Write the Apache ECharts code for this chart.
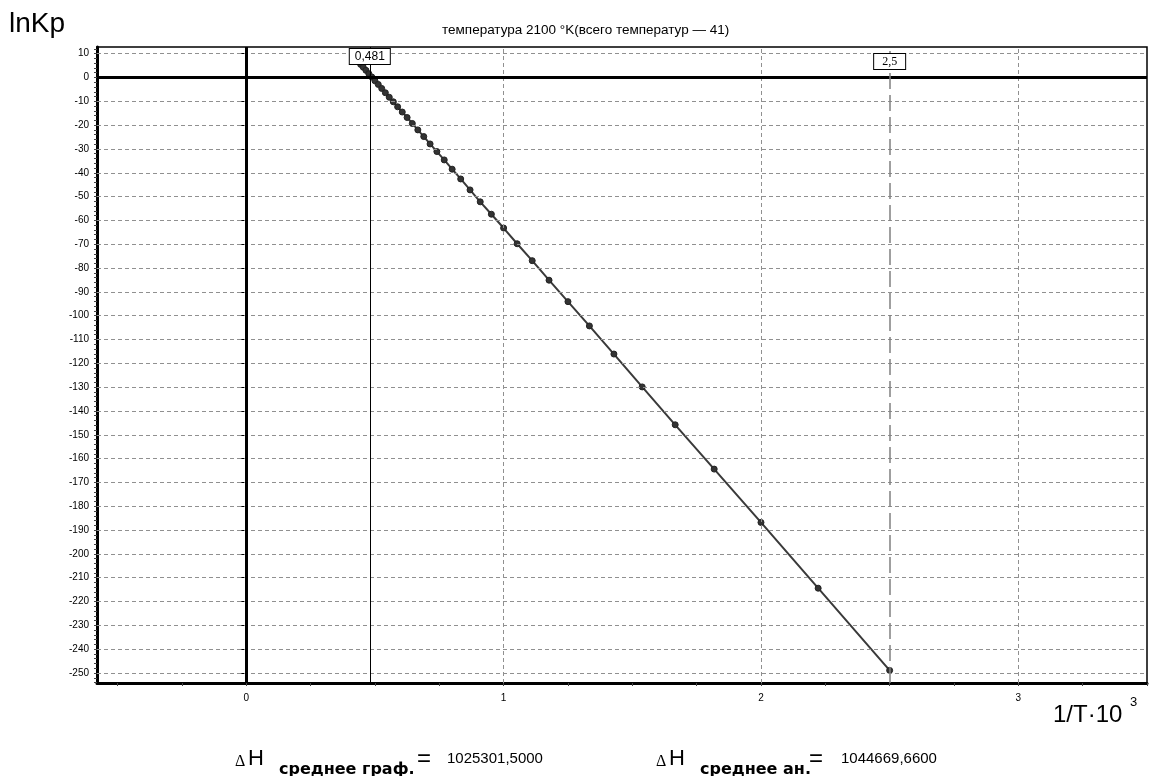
<!DOCTYPE html>
<html><head><meta charset="utf-8">
<script src="https://cdn.jsdelivr.net/npm/echarts@6/dist/echarts.min.js"></script>
<style>html,body{margin:0;padding:0;background:#fff}#c{width:1159px;height:776px}</style>
</head><body><div id="c"></div>
<script>
// 41 temperatures, 400..2400 K; x = 1/T·10^3, y = lnKp
const invT = [0.4167,0.4255,0.4348,0.4444,0.4545,0.4651,0.4762,0.4878,0.5,0.5128,0.5263,0.5405,0.5556,0.5714,0.5882,0.6061,0.625,0.6452,0.6667,0.6897,0.7143,0.7407,0.7692,0.8,0.8333,0.8696,0.9091,0.9524,1.0,1.0526,1.1111,1.1765,1.25,1.3333,1.4286,1.5385,1.6667,1.8182,2.0,2.2222,2.5];
const lnKp = [9.0,7.9,6.7,5.5,4.3,3.0,1.6,0.2,-1.4,-2.9,-4.6,-6.4,-8.3,-10.2,-12.3,-14.5,-16.8,-19.3,-22.0,-24.8,-27.9,-31.1,-34.6,-38.5,-42.6,-47.2,-52.2,-57.4,-63.2,-69.8,-76.9,-85.1,-94.1,-104.3,-116.1,-129.9,-145.8,-164.4,-186.8,-214.4,-248.9];
const xTickLabels = [0,1,2,3];
const xTicks = [-0.5,-0.25,0,0.25,0.5,0.75,1,1.25,1.5,1.75,2,2.25,2.5,2.75,3,3.25,3.5];
const xGridValues = [1,2,3];
const yTickLabels = [-250,-240,-230,-220,-210,-200,-190,-180,-170,-160,-150,-140,-130,-120,-110,-100,-90,-80,-70,-60,-50,-40,-30,-20,-10,0,10];
const yMinorTicks = [];
for (let v = -254; v <= 12; v += 2) yMinorTicks.push(v);
const yGridValues = yTickLabels.filter(v => v !== 0);
const markerValues = [0.481, 2.5];
const markerTexts = ['0,481', '2,5'];
const titleText = 'температура 2100 °K(всего температур — 41)';
const yName = 'lnKp';
const xName = '1/T·10';
const xNameSup = '3';
const dhGraphLabel = 'среднее граф.';
const dhGraphValue = '1025301,5000';
const dhAnLabel = 'среднее ан.';
const dhAnValue = '1044669,6600';

const FONT = "'Liberation Sans', Arial, sans-serif";
const points = invT.map((x, i) => [x, lnKp[i]]);
const chart = echarts.init(document.getElementById('c'));

const gridLineStyle = {color: '#909090', type: [4, 3], width: 1};

chart.setOption({
  animation: false,
  backgroundColor: '#fff',
  grid: {left: 97, right: 12, top: 47, bottom: 93, show: true, borderColor: '#000', borderWidth: 1.5, backgroundColor: '#fff'},
  xAxis: [{
    type: 'value', min: -0.58, max: 3.5,
    splitLine: {show: false},
    axisLine: {show: true, onZero: false, lineStyle: {color: '#000', width: 3}},
    axisTick: {show: true, customValues: xTicks, length: 3, lineStyle: {color: '#444'}},
    axisLabel: {customValues: xTickLabels, fontSize: 10, color: '#000', margin: 10, fontFamily: FONT}
  }],
  yAxis: [{
    type: 'value', min: -254.2, max: 12.8,
    splitLine: {show: false},
    axisLine: {show: true, onZero: false, lineStyle: {color: '#000', width: 3}},
    axisTick: {show: true, customValues: yMinorTicks, length: 3, lineStyle: {color: '#444'}},
    axisLabel: {customValues: yTickLabels, fontSize: 10, color: '#000', margin: 8, fontFamily: FONT}
  }, {
    type: 'value', min: -254.2, max: 12.8, position: 'left',
    splitLine: {show: false},
    axisLine: {show: false},
    axisTick: {show: true, customValues: yTickLabels, length: 5, lineStyle: {color: '#000'}},
    axisLabel: {show: false}
  }],
  series: [
    {
      name: 'grid', type: 'line', data: points, symbol: 'none', silent: true, z: 1,
      lineStyle: {opacity: 0},
      markLine: {
        silent: true, symbol: ['none', 'none'], label: {show: false},
        lineStyle: gridLineStyle,
        data: yGridValues.map(v => ({yAxis: v})).concat(xGridValues.map(v => ({xAxis: v})))
      }
    },
    {
      name: 'axes0', type: 'line', data: points, symbol: 'none', silent: true, z: 2,
      lineStyle: {opacity: 0},
      markLine: {
        silent: true, symbol: ['none', 'none'], label: {show: false},
        lineStyle: {color: '#000', type: 'solid', width: 3},
        data: [{yAxis: 0}, {xAxis: 0}]
      }
    },
    {
      name: 'lnKp', type: 'line', data: points, z: 3,
      symbol: 'circle', symbolSize: 6,
      itemStyle: {color: '#333', borderColor: '#222', borderWidth: 1},
      lineStyle: {color: '#3a3a3a', width: 2}
    },
    {
      name: 'm1', type: 'line', data: points, symbol: 'none', silent: true, z: 4,
      lineStyle: {opacity: 0},
      markLine: {
        silent: true, symbol: ['none', 'none'],
        data: [{
          xAxis: markerValues[0],
          lineStyle: {color: '#000', type: 'solid', width: 1},
          label: {show: true, position: 'end', distance: -17, formatter: markerTexts[0],
            backgroundColor: '#fff', borderColor: '#000', borderWidth: 1, padding: [2, 5, 1, 5],
            color: '#000', fontSize: 12, fontFamily: FONT}
        }, {
          xAxis: markerValues[1],
          lineStyle: {color: '#808080', type: [16, 6], width: 1.5},
          label: {show: true, position: 'end', distance: -22, formatter: markerTexts[1],
            backgroundColor: '#fff', borderColor: '#000', borderWidth: 1, padding: [2, 8, 1, 8],
            color: '#000', fontSize: 12, fontFamily: "'Liberation Serif', serif"}
        }]
      }
    }
  ],
  graphic: [
    {type: 'text', left: 9, top: 10, style: {text: yName, font: "28px " + FONT, fill: '#000'}},
    {type: 'text', left: 442, top: 23, style: {text: titleText, font: "13.5px " + FONT, fill: '#000'}},
    {type: 'text', left: 1053, top: 703, style: {text: xName, font: "24px " + FONT, fill: '#000'}},
    {type: 'text', left: 1130, top: 696, style: {text: xNameSup, font: "13px " + FONT, fill: '#000'}},

    {type: 'text', left: 235, top: 754, style: {text: 'Δ', font: "16px 'Liberation Serif', serif", fill: '#000'}},
    {type: 'text', left: 248, top: 748, style: {text: 'H', font: "22px " + FONT, fill: '#000'}},
    {type: 'text', left: 279, top: 762, style: {text: dhGraphLabel, font: "bold 16px 'DejaVu Sans', sans-serif", fill: '#000'}},
    {type: 'text', left: 417, top: 747, style: {text: '=', font: "24px " + FONT, fill: '#000'}},
    {type: 'text', left: 447, top: 751, style: {text: dhGraphValue, font: "15px " + FONT, fill: '#000'}},

    {type: 'text', left: 656, top: 754, style: {text: 'Δ', font: "16px 'Liberation Serif', serif", fill: '#000'}},
    {type: 'text', left: 669, top: 748, style: {text: 'H', font: "22px " + FONT, fill: '#000'}},
    {type: 'text', left: 700, top: 762, style: {text: dhAnLabel, font: "bold 16px 'DejaVu Sans', sans-serif", fill: '#000'}},
    {type: 'text', left: 809, top: 747, style: {text: '=', font: "24px " + FONT, fill: '#000'}},
    {type: 'text', left: 841, top: 751, style: {text: dhAnValue, font: "15px " + FONT, fill: '#000'}}
  ]
});
</script>
</body></html>
